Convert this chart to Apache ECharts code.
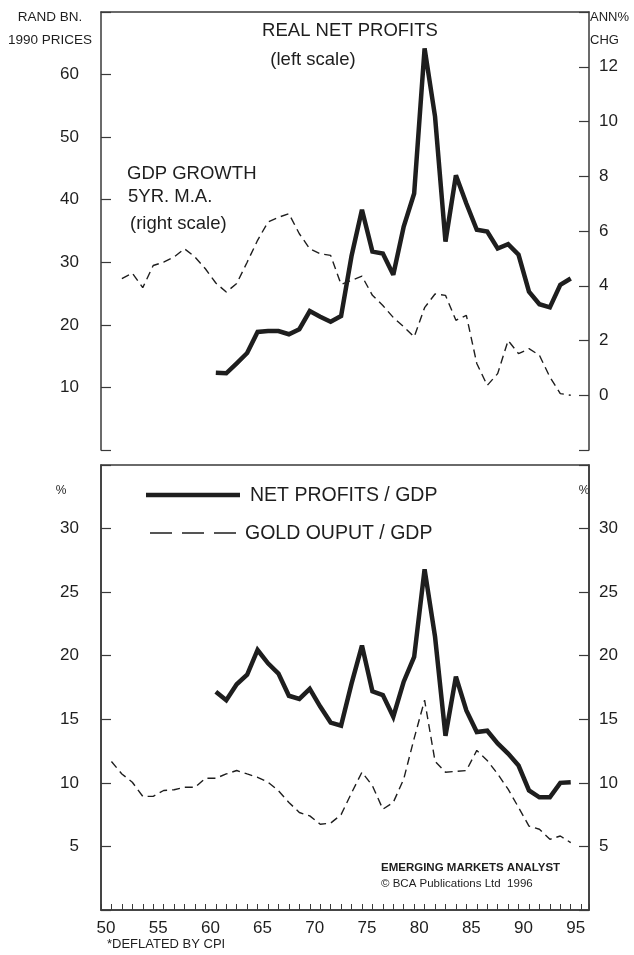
<!DOCTYPE html>
<html>
<head>
<meta charset="utf-8">
<script src="https://cdn.jsdelivr.net/npm/echarts@6/dist/echarts.min.js"></script>
<style>
html,body{margin:0;padding:0;background:#fff;}
#c{width:634px;height:955px;}
</style>
</head>
<body>
<div id="c"></div>
<script>
// ---- data (years as 2-digit, 19xx) ----
const profitYears = [61,62,63,64,65,66,67,68,69,70,71,72,73,74,75,76,77,78,79,80,81,82,83,84,85,86,87,88,89,90,91,92,93,94,95];
const realNetProfits = [12.35,12.26,13.86,15.5,18.86,19.0,19.0,18.5,19.3,22.2,21.3,20.5,21.4,31.0,38.4,31.7,31.4,28.0,35.7,41.0,64.2,53.3,33.3,43.9,39.4,35.2,34.9,32.2,32.9,31.2,25.3,23.3,22.8,26.4,27.4];

const gdpYears = [52,53,54,55,56,57,58,59,60,61,62,63,64,65,66,67,68,69,70,71,72,73,74,75,76,77,78,79,80,81,82,83,84,85,86,87,88,89,90,91,92,93,94,95];
const gdpGrowth5yMA = [4.26,4.46,3.93,4.74,4.86,5.05,5.35,5.05,4.62,4.1,3.77,4.08,4.86,5.66,6.33,6.5,6.63,5.9,5.35,5.17,5.11,4.05,4.2,4.35,3.65,3.28,2.84,2.5,2.13,3.2,3.7,3.65,2.74,2.92,1.16,0.36,0.79,2.0,1.52,1.7,1.46,0.67,0.06,0.0];

const profitsToGdp = [17.17,16.5,17.75,18.5,20.45,19.4,18.6,16.85,16.6,17.4,16.0,14.74,14.5,17.8,20.8,17.2,16.9,15.2,17.96,19.9,26.8,21.5,13.7,18.35,15.7,14.0,14.1,13.1,12.3,11.36,9.4,8.86,8.86,10.0,10.05];

const goldYears = [51,52,53,54,55,56,57,58,59,60,61,62,63,64,65,66,67,68,69,70,71,72,73,74,75,76,77,78,79,80,81,82,83,84,85,86,87,88,89,90,91,92,93,94,95];
const goldOutputToGdp = [11.68,10.7,10.05,8.94,8.94,9.4,9.46,9.65,9.65,10.36,10.36,10.7,10.97,10.7,10.44,10.05,9.38,8.46,7.67,7.4,6.75,6.83,7.5,9.2,10.84,9.78,7.93,8.46,10.3,13.5,16.5,11.7,10.84,10.9,10.97,12.55,11.76,10.7,9.5,8.07,6.6,6.35,5.56,5.82,5.3];

const topLeftTicks = {min:0, max:70, interval:10};
const topRightTicks = {min:-2, max:14, interval:2};
const bottomTicks = {min:0, max:35, interval:5};
const xTicks = {min:50, max:96.75, interval:1};

const pairs = (xs, ys) => xs.map((x,i)=>[x, ys[i]]);

const FONT = 'Liberation Sans';
const INK = '#1e1e1e';
const FRAME = '#3a3a3a';

const chart = echarts.init(document.getElementById('c'));

function yLabelFmt(lo, hi){
  return v => (v <= lo || v >= hi) ? '' : String(v);
}
function txt(x, y, text, size, align, bold){
  return {type:'text', style:{x:x, y:y, text:text, font:(bold?'bold ':'')+size+'px '+FONT, fill:INK, align:align||'left', verticalAlign:'middle'}};
}

const option = {
  backgroundColor:'#fff',
  animation:false,
  textStyle:{fontFamily:FONT},
  grid:[
    {left:101, top:12, width:488, height:438},
    {left:101, top:465, width:488, height:445, show:true, borderColor:FRAME, borderWidth:1.5}
  ],
  xAxis:[
    {gridIndex:0, type:'value', position:'top', min:xTicks.min, max:xTicks.max, interval:xTicks.interval,
     axisLine:{show:true, onZero:false, lineStyle:{color:FRAME, width:1.5}}, axisTick:{show:false}, axisLabel:{show:false}, splitLine:{show:false}},
    {gridIndex:1, type:'value', position:'bottom', min:xTicks.min, max:xTicks.max, interval:xTicks.interval,
     axisLine:{show:true, onZero:false, lineStyle:{color:FRAME, width:1.5}},
     axisTick:{show:true, inside:true, length:6, lineStyle:{color:FRAME, width:1}},
     axisLabel:{show:true, margin:10, color:INK, fontSize:17, fontFamily:FONT, padding:[0,0,0,10],
       formatter: v => (Math.abs(v-Math.round(v))<1e-6 && Math.round(v)%5===0 && v<=95) ? String(Math.round(v)) : ''},
     splitLine:{show:false}}
  ],
  yAxis:[
    {gridIndex:0, type:'value', position:'left', min:topLeftTicks.min, max:topLeftTicks.max, interval:topLeftTicks.interval,
     axisLine:{show:true, onZero:false, lineStyle:{color:FRAME, width:1.5}},
     axisTick:{show:true, inside:true, length:10, lineStyle:{color:FRAME, width:1.2}},
     axisLabel:{margin:22, color:INK, fontSize:17, fontFamily:FONT, formatter:yLabelFmt(topLeftTicks.min, topLeftTicks.max)},
     splitLine:{show:false}},
    {gridIndex:0, type:'value', position:'right', min:topRightTicks.min, max:topRightTicks.max, interval:topRightTicks.interval,
     axisLine:{show:true, onZero:false, lineStyle:{color:FRAME, width:1.5}},
     axisTick:{show:true, inside:true, length:10, lineStyle:{color:FRAME, width:1.2}},
     axisLabel:{margin:10, color:INK, fontSize:17, fontFamily:FONT, formatter:yLabelFmt(topRightTicks.min, topRightTicks.max)},
     splitLine:{show:false}},
    {gridIndex:1, type:'value', position:'left', min:bottomTicks.min, max:bottomTicks.max, interval:bottomTicks.interval,
     axisLine:{show:true, onZero:false, lineStyle:{color:FRAME, width:1.5}},
     axisTick:{show:true, inside:true, length:10, lineStyle:{color:FRAME, width:1.2}},
     axisLabel:{margin:22, color:INK, fontSize:17, fontFamily:FONT, formatter:yLabelFmt(bottomTicks.min, bottomTicks.max)},
     splitLine:{show:false}},
    {gridIndex:1, type:'value', position:'right', min:bottomTicks.min, max:bottomTicks.max, interval:bottomTicks.interval,
     axisLine:{show:true, onZero:false, lineStyle:{color:FRAME, width:1.5}},
     axisTick:{show:true, inside:true, length:10, lineStyle:{color:FRAME, width:1.2}},
     axisLabel:{margin:10, color:INK, fontSize:17, fontFamily:FONT, formatter:yLabelFmt(bottomTicks.min, bottomTicks.max)},
     splitLine:{show:false}}
  ],
  series:[
    {name:'Real net profits', type:'line', xAxisIndex:0, yAxisIndex:0, data:pairs(profitYears, realNetProfits),
     showSymbol:false, lineStyle:{color:INK, width:4.5, join:'miter', miterLimit:3}, z:3},
    {name:'GDP growth 5yr MA', type:'line', xAxisIndex:0, yAxisIndex:1, data:pairs(gdpYears, gdpGrowth5yMA),
     showSymbol:false, lineStyle:{color:INK, width:1.4, type:[8,5]}, z:2},
    {name:'Net profits / GDP', type:'line', xAxisIndex:1, yAxisIndex:2, data:pairs(profitYears, profitsToGdp),
     showSymbol:false, lineStyle:{color:INK, width:4.5, join:'miter', miterLimit:3}, z:3},
    {name:'Gold output / GDP', type:'line', xAxisIndex:1, yAxisIndex:3, data:pairs(goldYears, goldOutputToGdp),
     showSymbol:false, lineStyle:{color:INK, width:1.4, type:[8,5]}, z:2}
  ],
  graphic:[
    txt(50, 17, 'RAND BN.', 13.5, 'center'),
    txt(50, 40, '1990 PRICES', 13.5, 'center'),
    txt(590, 17, 'ANN%', 13, 'left'),
    txt(590, 40, 'CHG', 13, 'left'),
    txt(350, 31, 'REAL NET PROFITS', 18.5, 'center'),
    txt(313, 60, '(left scale)', 18.5, 'center'),
    txt(127, 174, 'GDP GROWTH', 18.5, 'left'),
    txt(128, 197, '5YR. M.A.', 18.5, 'left'),
    txt(130, 224, '(right scale)', 18.5, 'left'),
    txt(61, 491, '%', 12, 'center'),
    txt(584, 491, '%', 12, 'center'),
    {type:'line', shape:{x1:146, y1:495, x2:240, y2:495}, style:{stroke:INK, lineWidth:4.5}},
    txt(250, 496, 'NET PROFITS / GDP', 19.5, 'left'),
    {type:'line', shape:{x1:150, y1:533, x2:236, y2:533}, style:{stroke:INK, lineWidth:1.4, lineDash:[22,10]}},
    txt(245, 534, 'GOLD OUPUT / GDP', 19.5, 'left'),
    txt(381, 868, 'EMERGING MARKETS ANALYST', 11.5, 'left', true),
    txt(381, 884, '© BCA Publications Ltd  1996', 11.5, 'left'),
    txt(107, 944, '*DEFLATED BY CPI', 13, 'left')
  ]
};
chart.setOption(option);
</script>
</body>
</html>
